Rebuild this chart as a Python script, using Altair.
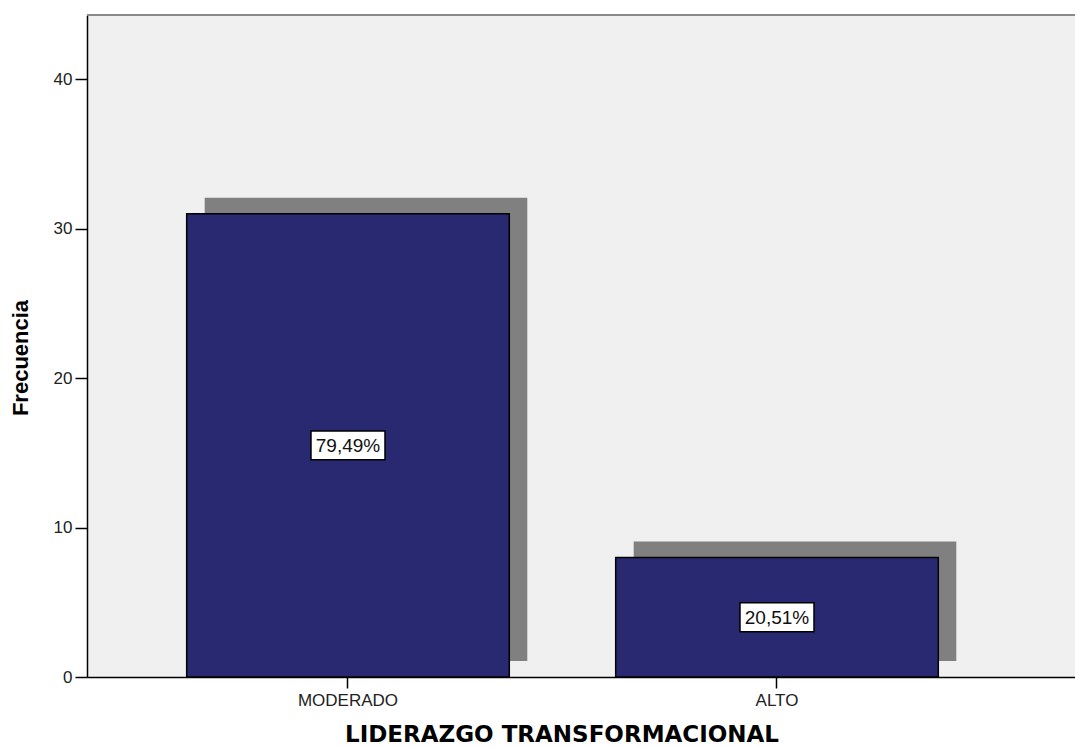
import altair as alt
import pandas as pd

categories = ["MODERADO", "ALTO"]
counts = [31, 8]
pct_labels = ["79,49%", "20,51%"]
y_ticks = [0, 10, 20, 30, 40]

df = pd.DataFrame({"cat": categories, "n": counts, "pct": pct_labels})

W, H = 988, 662

xscale = alt.Scale(domain=categories, paddingInner=0.248, paddingOuter=0.2755, align=0.4217)
yscale = alt.Scale(domain=[0, 44.3], nice=False, zero=True)

x_axis = alt.Axis(
    title="LIDERAZGO TRANSFORMACIONAL", labelAngle=0, grid=False,
    domainColor="#000000", domainWidth=1.5, tickColor="#000000", tickWidth=1.5,
    tickSize=11, labelPadding=4, labelFont="Liberation Sans", labelFontSize=17,
    labelColor="#222222", titleFont="DejaVu Sans", titleFontSize=23,
    titleFontWeight="bold", titleColor="#000000", titleX=474.5, titleY=64,
    titleAlign="center", titleBaseline="alphabetic",
)
y_axis = alt.Axis(
    title="Frecuencia", values=y_ticks, grid=False,
    domainColor="#000000", domainWidth=1.5, tickColor="#000000", tickWidth=1.5,
    tickSize=12, labelPadding=3, labelFont="Liberation Sans", labelFontSize=17,
    labelColor="#222222", titleFont="Liberation Sans", titleFontSize=22,
    titleFontWeight="bold", titleColor="#000000", titleAngle=270,
    titleX=-67, titleY=342.5, titleAlign="center", titleBaseline="middle",
)

X = alt.X("cat:N", sort=categories, scale=xscale, axis=x_axis)

base = alt.Chart(df).encode(x=X)

shadow = base.mark_bar(color="#808080", xOffset=18, x2Offset=18, yOffset=-16, y2Offset=-16).encode(
    y=alt.Y("n:Q", scale=yscale, axis=y_axis)
)
bars = base.mark_bar(color="#292972", stroke="#000000", strokeWidth=1.5).encode(
    y=alt.Y("n:Q", scale=yscale, axis=y_axis)
)
mid = base.transform_calculate(half="datum.n / 2")
boxes = mid.mark_point(
    shape="M-1,-0.39L1,-0.39L1,0.39L-1,0.39Z", size=5476, filled=True,
    fill="#FFFFFF", stroke="#000000", strokeWidth=1.5, opacity=1,
).encode(y=alt.Y("half:Q", scale=yscale, axis=y_axis))
labels = mid.mark_text(
    font="Liberation Sans", fontSize=19, color="#111111", baseline="middle", align="center", dy=1
).encode(y=alt.Y("half:Q", scale=yscale, axis=y_axis), text="pct:N")

top_border = alt.Chart(pd.DataFrame({"k": [0]})).mark_rule(color="#8A8A8A", strokeWidth=2).encode(
    x=alt.value(0), x2=alt.value(W), y=alt.value(0)
)

chart = alt.layer(shadow, bars, boxes, labels, top_border).properties(
    width=W, height=H,
    autosize=alt.AutoSizeParams(type="none"),
    padding={"left": 87, "top": 15, "right": 0, "bottom": 70},
    background="#FFFFFF",
).configure_view(fill="#F0F0F0", stroke="transparent")

chart.save("out.html", embed_options={"renderer": "svg", "actions": False})
